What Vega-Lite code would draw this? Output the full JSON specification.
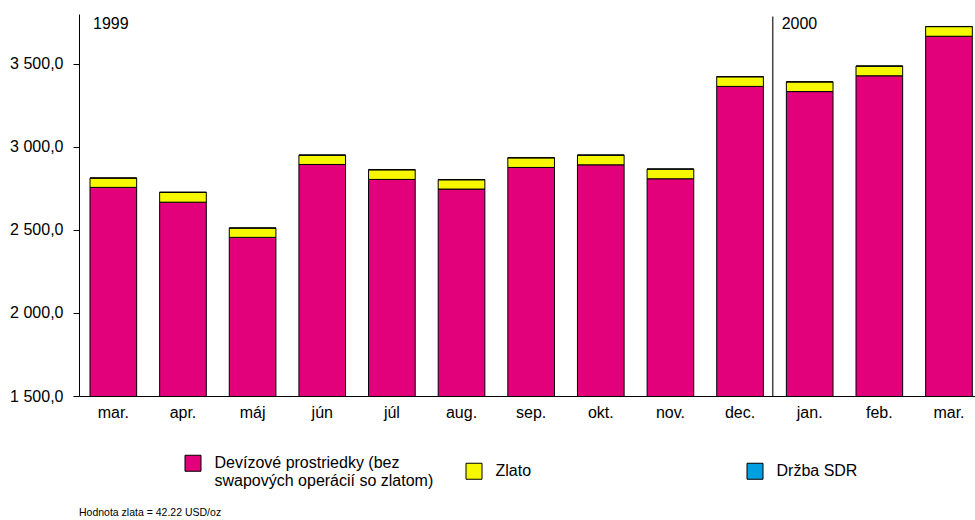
{
  "$schema": "https://vega.github.io/schema/vega-lite/v6.json",
  "width": 896,
  "height": 382,
  "autosize": "none",
  "padding": {"left": 79, "top": 14, "right": 0, "bottom": 124},
  "background": "white",
  "config": {
    "view": {"stroke": null},
    "font": "Liberation Sans",
    "axis": {"grid": false, "domainColor": "black", "tickColor": "black", "labelColor": "black", "labelFont": "Liberation Sans"},
    "legend": {"labelFont": "Liberation Sans"}
  },
  "title": {
    "text": "Hodnota zlata = 42.22 USD/oz",
    "orient": "bottom",
    "anchor": "start",
    "frame": "group",
    "fontSize": 10.5,
    "fontWeight": "normal",
    "font": "Liberation Sans",
    "color": "black",
    "baseline": "top",
    "offset": 18
  },
  "datasets": {
    "bars": [
      {"month": "mar.|1999", "series": "Devízové prostriedky (bez swapových operácií so zlatom)", "ord": 1, "value": 2756},
      {"month": "mar.|1999", "series": "Zlato", "ord": 2, "value": 56},
      {"month": "mar.|1999", "series": "Držba SDR", "ord": 3, "value": 1},
      {"month": "apr.|1999", "series": "Devízové prostriedky (bez swapových operácií so zlatom)", "ord": 1, "value": 2667},
      {"month": "apr.|1999", "series": "Zlato", "ord": 2, "value": 59},
      {"month": "apr.|1999", "series": "Držba SDR", "ord": 3, "value": 1},
      {"month": "máj|1999", "series": "Devízové prostriedky (bez swapových operácií so zlatom)", "ord": 1, "value": 2455},
      {"month": "máj|1999", "series": "Zlato", "ord": 2, "value": 56},
      {"month": "máj|1999", "series": "Držba SDR", "ord": 3, "value": 1},
      {"month": "jún|1999", "series": "Devízové prostriedky (bez swapových operácií so zlatom)", "ord": 1, "value": 2894},
      {"month": "jún|1999", "series": "Zlato", "ord": 2, "value": 56},
      {"month": "jún|1999", "series": "Držba SDR", "ord": 3, "value": 1},
      {"month": "júl|1999", "series": "Devízové prostriedky (bez swapových operácií so zlatom)", "ord": 1, "value": 2804},
      {"month": "júl|1999", "series": "Zlato", "ord": 2, "value": 58},
      {"month": "júl|1999", "series": "Držba SDR", "ord": 3, "value": 1},
      {"month": "aug.|1999", "series": "Devízové prostriedky (bez swapových operácií so zlatom)", "ord": 1, "value": 2746},
      {"month": "aug.|1999", "series": "Zlato", "ord": 2, "value": 56},
      {"month": "aug.|1999", "series": "Držba SDR", "ord": 3, "value": 1},
      {"month": "sep.|1999", "series": "Devízové prostriedky (bez swapových operácií so zlatom)", "ord": 1, "value": 2876},
      {"month": "sep.|1999", "series": "Zlato", "ord": 2, "value": 58},
      {"month": "sep.|1999", "series": "Držba SDR", "ord": 3, "value": 1},
      {"month": "okt.|1999", "series": "Devízové prostriedky (bez swapových operácií so zlatom)", "ord": 1, "value": 2892},
      {"month": "okt.|1999", "series": "Zlato", "ord": 2, "value": 58},
      {"month": "okt.|1999", "series": "Držba SDR", "ord": 3, "value": 1},
      {"month": "nov.|1999", "series": "Devízové prostriedky (bez swapových operácií so zlatom)", "ord": 1, "value": 2808},
      {"month": "nov.|1999", "series": "Zlato", "ord": 2, "value": 58},
      {"month": "nov.|1999", "series": "Držba SDR", "ord": 3, "value": 1},
      {"month": "dec.|1999", "series": "Devízové prostriedky (bez swapových operácií so zlatom)", "ord": 1, "value": 3364},
      {"month": "dec.|1999", "series": "Zlato", "ord": 2, "value": 58},
      {"month": "dec.|1999", "series": "Držba SDR", "ord": 3, "value": 1},
      {"month": "jan.|2000", "series": "Devízové prostriedky (bez swapových operácií so zlatom)", "ord": 1, "value": 3333},
      {"month": "jan.|2000", "series": "Zlato", "ord": 2, "value": 58},
      {"month": "jan.|2000", "series": "Držba SDR", "ord": 3, "value": 1},
      {"month": "feb.|2000", "series": "Devízové prostriedky (bez swapových operácií so zlatom)", "ord": 1, "value": 3428},
      {"month": "feb.|2000", "series": "Zlato", "ord": 2, "value": 58},
      {"month": "feb.|2000", "series": "Držba SDR", "ord": 3, "value": 1},
      {"month": "mar.|2000", "series": "Devízové prostriedky (bez swapových operácií so zlatom)", "ord": 1, "value": 3666},
      {"month": "mar.|2000", "series": "Zlato", "ord": 2, "value": 58},
      {"month": "mar.|2000", "series": "Držba SDR", "ord": 3, "value": 1}
    ],
    "years": [
      {"month": "mar.|1999", "label": "1999"},
      {"month": "jan.|2000", "label": "2000"}
    ],
    "separator": [
      {"month": "dec.|1999"}
    ]
  },
  "layer": [
    {
      "data": {"name": "bars"},
      "mark": {"type": "bar", "stroke": "black", "strokeWidth": 1, "clip": true},
      "encoding": {
        "x": {
          "field": "month",
          "type": "nominal",
          "sort": null,
          "scale": {
            "domain": ["mar.|1999", "apr.|1999", "máj|1999", "jún|1999", "júl|1999", "aug.|1999", "sep.|1999", "okt.|1999", "nov.|1999", "dec.|1999", "jan.|2000", "feb.|2000", "mar.|2000"],
            "paddingInner": 0.33,
            "paddingOuter": 0.0984,
            "align": 0.803
          },
          "axis": {
            "title": null,
            "ticks": false,
            "labelPadding": 8,
            "labelFontSize": 16,
            "labelAngle": 0,
            "labelExpr": "split(datum.value, '|')[0]"
          }
        },
        "y": {
          "field": "value",
          "type": "quantitative",
          "stack": "zero",
          "scale": {"domain": [1500, 3800], "zero": false, "nice": false},
          "axis": {
            "title": null,
            "values": [1500, 2000, 2500, 3000, 3500],
            "labelExpr": "replace(replace(format(datum.value, ',.1f'), ',', ' '), '.', ',')",
            "labelFontSize": 16,
            "tickSize": 6,
            "labelPadding": 10
          }
        },
        "color": {
          "field": "series",
          "type": "nominal",
          "scale": {
            "domain": ["Devízové prostriedky (bez swapových operácií so zlatom)", "Zlato", "Držba SDR"],
            "range": ["#E3007B", "#F7F700", "#009FE3"]
          },
          "legend": {
            "title": null,
            "orient": "none",
            "legendX": 105.5,
            "legendY": 440.5,
            "direction": "horizontal",
            "columns": 3,
            "gridAlign": "all",
            "columnPadding": 30,
            "padding": 0,
            "symbolType": "square",
            "symbolSize": 256,
            "symbolStrokeColor": "black",
            "symbolStrokeWidth": 1,
            "symbolOpacity": 1,
            "labelFontSize": 16,
            "labelOffset": 13,
            "labelLimit": 400,
            "labelColor": "black",
            "labelExpr": "indexof(datum.label, '(bez') > 0 ? ['Devízové prostriedky (bez', 'swapových operácií so zlatom)'] : datum.label"
          }
        },
        "order": {"field": "ord", "type": "quantitative"}
      }
    },
    {
      "data": {"name": "separator"},
      "mark": {"type": "rule", "stroke": "#444444", "strokeWidth": 1.5},
      "encoding": {
        "x": {"field": "month", "type": "nominal", "bandPosition": 1.2},
        "y": {"datum": 3785},
        "y2": {"datum": 1500}
      }
    },
    {
      "data": {"name": "years"},
      "transform": [{"filter": "datum.label == '1999'"}],
      "mark": {"type": "text", "align": "left", "baseline": "top", "dx": 3, "dy": 2, "fontSize": 16, "color": "black", "font": "Liberation Sans"},
      "encoding": {
        "x": {"field": "month", "type": "nominal", "bandPosition": 0},
        "y": {"datum": 3800},
        "text": {"field": "label"}
      }
    },
    {
      "data": {"name": "years"},
      "transform": [{"filter": "datum.label == '2000'"}],
      "mark": {"type": "text", "align": "left", "baseline": "top", "dx": -4.7, "dy": 2, "fontSize": 16, "color": "black", "font": "Liberation Sans"},
      "encoding": {
        "x": {"field": "month", "type": "nominal", "bandPosition": 0},
        "y": {"datum": 3800},
        "text": {"field": "label"}
      }
    }
  ]
}
